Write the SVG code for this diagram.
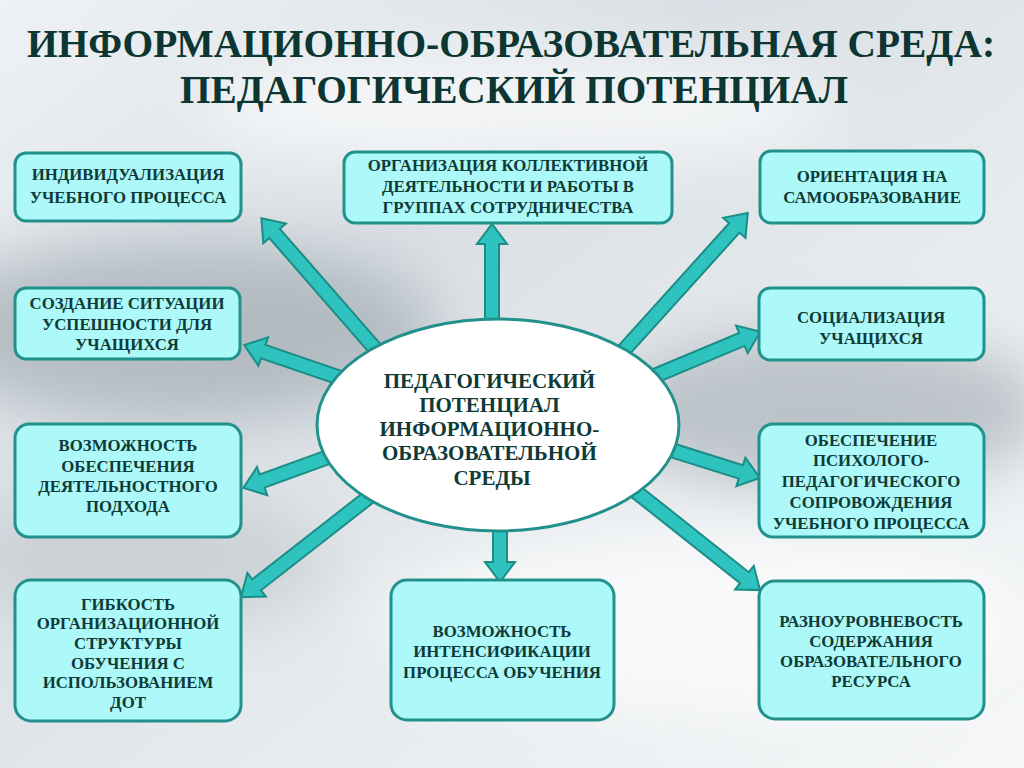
<svg xmlns="http://www.w3.org/2000/svg" width="1024" height="768" viewBox="0 0 1024 768">
  <defs>
    <linearGradient id="bg" x1="0" y1="0" x2="1" y2="1">
      <stop offset="0" stop-color="#eef2f5"/>
      <stop offset="0.35" stop-color="#d9dfe4"/>
      <stop offset="0.6" stop-color="#e6eaed"/>
      <stop offset="1" stop-color="#f5f7f8"/>
    </linearGradient>
    <filter id="blur" x="-50%" y="-50%" width="200%" height="200%">
      <feGaussianBlur stdDeviation="30"/>
    </filter>
    <style>
      .box { fill: #adf8f8; stroke: #22918b; stroke-width: 3; }
      .btxt { font-family: "Liberation Serif", "Times New Roman", serif; font-weight: bold; font-size: 16.8px; fill: #0e3a37; text-anchor: middle; }
      .ctxt { font-family: "Liberation Serif", "Times New Roman", serif; font-weight: bold; font-size: 21px; fill: #0e3a37; text-anchor: middle; }
      .title { font-family: "Liberation Serif", "Times New Roman", serif; font-weight: bold; font-size: 40px; fill: #0d3532; text-anchor: middle; }
      .arr { fill: #2ec3be; stroke: #1c8c86; stroke-width: 2; stroke-linejoin: miter; }
    </style>
  </defs>

  <!-- background -->
  <rect x="0" y="0" width="1024" height="768" fill="url(#bg)"/>
  <g filter="url(#blur)" opacity="0.65">
    <ellipse cx="180" cy="330" rx="260" ry="90" fill="#9ea8b0"/>
    <ellipse cx="830" cy="410" rx="220" ry="80" fill="#a4adb5"/>
    <ellipse cx="520" cy="110" rx="320" ry="60" fill="#ffffff"/>
    <ellipse cx="700" cy="620" rx="320" ry="90" fill="#ffffff"/>
    <ellipse cx="150" cy="560" rx="180" ry="70" fill="#c2c9ce"/>
  </g>

  <!-- title -->
  <g id="title">
    <text class="title" x="511" y="57" textLength="968" lengthAdjust="spacingAndGlyphs">ИНФОРМАЦИОННО-ОБРАЗОВАТЕЛЬНАЯ СРЕДА:</text>
    <text class="title" x="514" y="103" textLength="668" lengthAdjust="spacingAndGlyphs">ПЕДАГОГИЧЕСКИЙ ПОТЕНЦИАЛ</text>
  </g>

  <!-- connectors -->
  <g id="connectors">
    <path class="arr" transform="translate(492,340) rotate(-90)" d="M0,-7 H96 V-15 L116,0 L96,15 V7 H0 Z"/>
    <path class="arr" transform="translate(500,510) rotate(90)" d="M0,-7 H52 V-15 L72,0 L52,15 V7 H0 Z"/>
    <path class="arr" transform="translate(385,360) rotate(-131.1)" d="M0,-7 H168 V-15 L188,0 L168,15 V7 H0 Z"/>
    <path class="arr" transform="translate(355,383) rotate(-161.1)" d="M0,-7 H97 V-15 L117,0 L97,15 V7 H0 Z"/>
    <path class="arr" transform="translate(342,452) rotate(160)" d="M0,-7 H85 V-15 L105,0 L85,15 V7 H0 Z"/>
    <path class="arr" transform="translate(378,490) rotate(142)" d="M0,-7 H154 V-15 L174,0 L154,15 V7 H0 Z"/>
    <path class="arr" transform="translate(615,360) rotate(-47.9)" d="M0,-7 H178 V-15 L198,0 L178,15 V7 H0 Z"/>
    <path class="arr" transform="translate(645,380) rotate(-22.7)" d="M0,-7 H105 V-15 L125,0 L105,15 V7 H0 Z"/>
    <path class="arr" transform="translate(655,445) rotate(17.4)" d="M0,-7 H90 V-15 L110,0 L90,15 V7 H0 Z"/>
    <path class="arr" transform="translate(630,487) rotate(38.4)" d="M0,-7 H146 V-15 L166,0 L146,15 V7 H0 Z"/>
  </g>

  <!-- center -->
  <g id="center">
    <ellipse cx="498" cy="425" rx="181" ry="106" fill="#ffffff" stroke="#22918b" stroke-width="3"/>
    <text class="ctxt">
      <tspan x="492" y="388">ПЕДАГОГИЧЕСКИЙ</tspan>
      <tspan x="492" y="412">ПОТЕНЦИАЛ</tspan>
      <tspan x="492" y="436">ИНФОРМАЦИОННО-</tspan>
      <tspan x="492" y="460">ОБРАЗОВАТЕЛЬНОЙ</tspan>
      <tspan x="492" y="485">СРЕДЫ</tspan>
    </text>
  </g>

  <g id="n1">
    <rect class="box" x="15" y="153" width="226" height="68" rx="11"/>
    <text class="btxt"><tspan x="128" y="180">ИНДИВИДУАЛИЗАЦИЯ</tspan><tspan x="128" y="203">УЧЕБНОГО ПРОЦЕССА</tspan></text>
  </g>
  <g id="n2">
    <rect class="box" x="344" y="152" width="328" height="71" rx="11"/>
    <text class="btxt"><tspan x="508" y="171">ОРГАНИЗАЦИЯ КОЛЛЕКТИВНОЙ</tspan><tspan x="508" y="192">ДЕЯТЕЛЬНОСТИ И РАБОТЫ В</tspan><tspan x="508" y="213">ГРУППАХ СОТРУДНИЧЕСТВА</tspan></text>
  </g>
  <g id="n3">
    <rect class="box" x="760" y="151" width="224" height="72" rx="11"/>
    <text class="btxt"><tspan x="872" y="182">ОРИЕНТАЦИЯ НА</tspan><tspan x="872" y="203">САМООБРАЗОВАНИЕ</tspan></text>
  </g>
  <g id="n4">
    <rect class="box" x="15" y="288" width="225" height="71" rx="11"/>
    <text class="btxt"><tspan x="127" y="309">СОЗДАНИЕ СИТУАЦИИ</tspan><tspan x="127" y="330">УСПЕШНОСТИ ДЛЯ</tspan><tspan x="127" y="350">УЧАЩИХСЯ</tspan></text>
  </g>
  <g id="n5">
    <rect class="box" x="759" y="288" width="225" height="72" rx="11"/>
    <text class="btxt"><tspan x="871" y="323">СОЦИАЛИЗАЦИЯ</tspan><tspan x="871" y="344">УЧАЩИХСЯ</tspan></text>
  </g>
  <g id="n6">
    <rect class="box" x="15" y="424" width="226" height="113" rx="14"/>
    <text class="btxt"><tspan x="128" y="451">ВОЗМОЖНОСТЬ</tspan><tspan x="128" y="472">ОБЕСПЕЧЕНИЯ</tspan><tspan x="128" y="492">ДЕЯТЕЛЬНОСТНОГО</tspan><tspan x="128" y="512">ПОДХОДА</tspan></text>
  </g>
  <g id="n7">
    <rect class="box" x="759" y="424" width="225" height="113" rx="14"/>
    <text class="btxt"><tspan x="871" y="446">ОБЕСПЕЧЕНИЕ</tspan><tspan x="871" y="466">ПСИХОЛОГО-</tspan><tspan x="871" y="487">ПЕДАГОГИЧЕСКОГО</tspan><tspan x="871" y="508">СОПРОВОЖДЕНИЯ</tspan><tspan x="871" y="529">УЧЕБНОГО ПРОЦЕССА</tspan></text>
  </g>
  <g id="n8">
    <rect class="box" x="15" y="580" width="226" height="141" rx="16"/>
    <text class="btxt"><tspan x="128" y="610">ГИБКОСТЬ</tspan><tspan x="128" y="629">ОРГАНИЗАЦИОННОЙ</tspan><tspan x="128" y="649">СТРУКТУРЫ</tspan><tspan x="128" y="669">ОБУЧЕНИЯ С</tspan><tspan x="128" y="688">ИСПОЛЬЗОВАНИЕМ</tspan><tspan x="128" y="708">ДОТ</tspan></text>
  </g>
  <g id="n9">
    <rect class="box" x="391" y="580" width="223" height="140" rx="16"/>
    <text class="btxt"><tspan x="502" y="637">ВОЗМОЖНОСТЬ</tspan><tspan x="502" y="657">ИНТЕНСИФИКАЦИИ</tspan><tspan x="502" y="678">ПРОЦЕССА ОБУЧЕНИЯ</tspan></text>
  </g>
  <g id="n10">
    <rect class="box" x="759" y="581" width="225" height="138" rx="16"/>
    <text class="btxt"><tspan x="871" y="627">РАЗНОУРОВНЕВОСТЬ</tspan><tspan x="871" y="647">СОДЕРЖАНИЯ</tspan><tspan x="871" y="667">ОБРАЗОВАТЕЛЬНОГО</tspan><tspan x="871" y="687">РЕСУРСА</tspan></text>
  </g>
</svg>
